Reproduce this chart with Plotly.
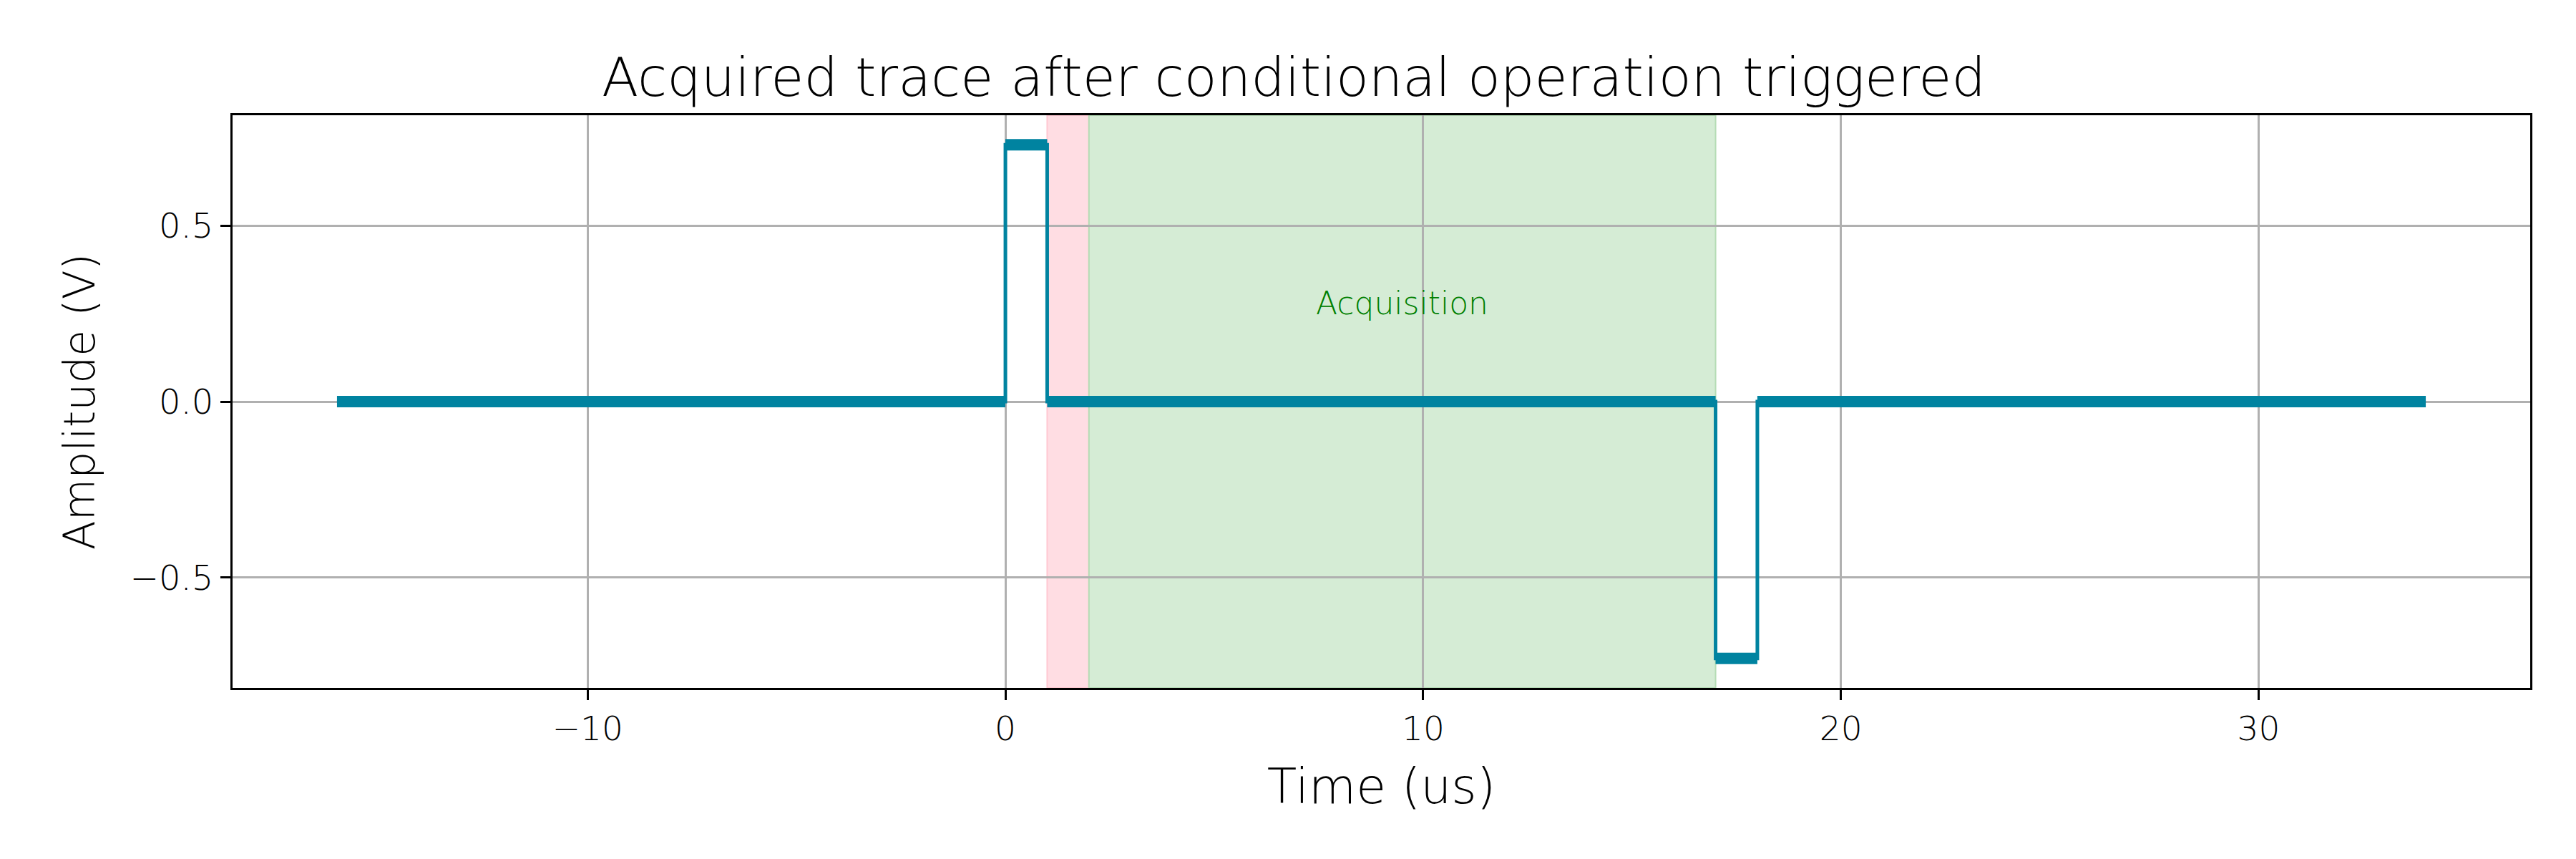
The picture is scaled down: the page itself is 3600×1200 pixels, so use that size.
import plotly.graph_objects as go

# Step trace (time in us, amplitude in V)
trace_time = [-16, 0, 0, 1, 1, 17, 17, 18, 18, 34]
trace_amp = [0.0, 0.0, 0.73, 0.73, 0.0, 0.0, -0.73, -0.73, 0.0, 0.0]

# Flat plateaus (noise band)
plateau_start = [-16, 0, 1, 17, 18]
plateau_end = [0, 1, 17, 18, 34]
plateau_level = [0.0, 0.73, 0.0, -0.73, 0.0]

# Shaded windows
red_window = (1, 2)
acq_window = (2, 17)
acq_label = "Acquisition"
acq_label_pos = (9.5, 0.28)

x_ticks = [-10, 0, 10, 20, 30]
y_ticks = [-0.5, 0.0, 0.5]
y_ticklabels = ["\u22120.5", "0.0", "0.5"]
x_ticklabels = ["\u221210", "0", "10", "20", "30"]

FONT = "DejaVu Sans, sans-serif"
W = 200
LINE = "#0083a0"

fig = go.Figure()

px_, py_ = [], []
for s, e, l in zip(plateau_start, plateau_end, plateau_level):
    px_ += [s, e, None]
    py_ += [l, l, None]

fig.add_trace(go.Scatter(x=trace_time, y=trace_amp, mode="lines",
                         line=dict(color=LINE, width=5), showlegend=False))
fig.add_trace(go.Scatter(x=px_, y=py_, mode="lines",
                         line=dict(color=LINE, width=16), showlegend=False))

fig.add_vrect(x0=red_window[0], x1=red_window[1], fillcolor="#ffdde3",
              line=dict(color="#ffc9d2", width=2), layer="below")
fig.add_vrect(x0=acq_window[0], x1=acq_window[1], fillcolor="#d5ecd5",
              line=dict(color="#b5dcb5", width=2), layer="below")

fig.add_annotation(x=acq_label_pos[0], y=acq_label_pos[1], text=acq_label,
                   showarrow=False,
                   font=dict(family=FONT, size=44, color="#008000", weight=W))

fig.update_layout(
    width=3600, height=1200,
    margin=dict(l=317, r=72, t=153, b=247, autoexpand=False),
    paper_bgcolor="white", plot_bgcolor="white",
    title=dict(text="Acquired trace after conditional operation triggered",
               x=0.5, xanchor="center", y=1 - 100 / 1200, yanchor="middle",
               font=dict(family=FONT, size=75, color="black", weight=W)),
    font=dict(family=FONT, color="black", weight=W),
)

fig.update_xaxes(range=[-18.5, 36.5], tickvals=x_ticks, ticktext=x_ticklabels,
                 automargin=False,
                 showgrid=True, gridcolor="#b0b0b0", gridwidth=3,
                 zeroline=False, showline=True, linecolor="black", linewidth=3,
                 mirror=True, ticks="outside", ticklen=14, tickwidth=3, tickcolor="black",
                 tickfont=dict(family=FONT, size=47, color="black", weight=W),
                 title=dict(text="Time (us)",
                            font=dict(family=FONT, size=68, color="black", weight=W),
                            standoff=30))
fig.update_yaxes(range=[-0.814, 0.814], tickvals=y_ticks, ticktext=y_ticklabels,
                 automargin=False,
                 showgrid=True, gridcolor="#b0b0b0", gridwidth=3,
                 zeroline=False, showline=True, linecolor="black", linewidth=3,
                 mirror=True, ticks="outside", ticklen=14, tickwidth=3, tickcolor="black",
                 tickfont=dict(family=FONT, size=48, color="black", weight=W),
                 title=dict(text="Amplitude (V)",
                            font=dict(family=FONT, size=60, color="black", weight=W),
                            standoff=30))

fig.write_html("out.html")
